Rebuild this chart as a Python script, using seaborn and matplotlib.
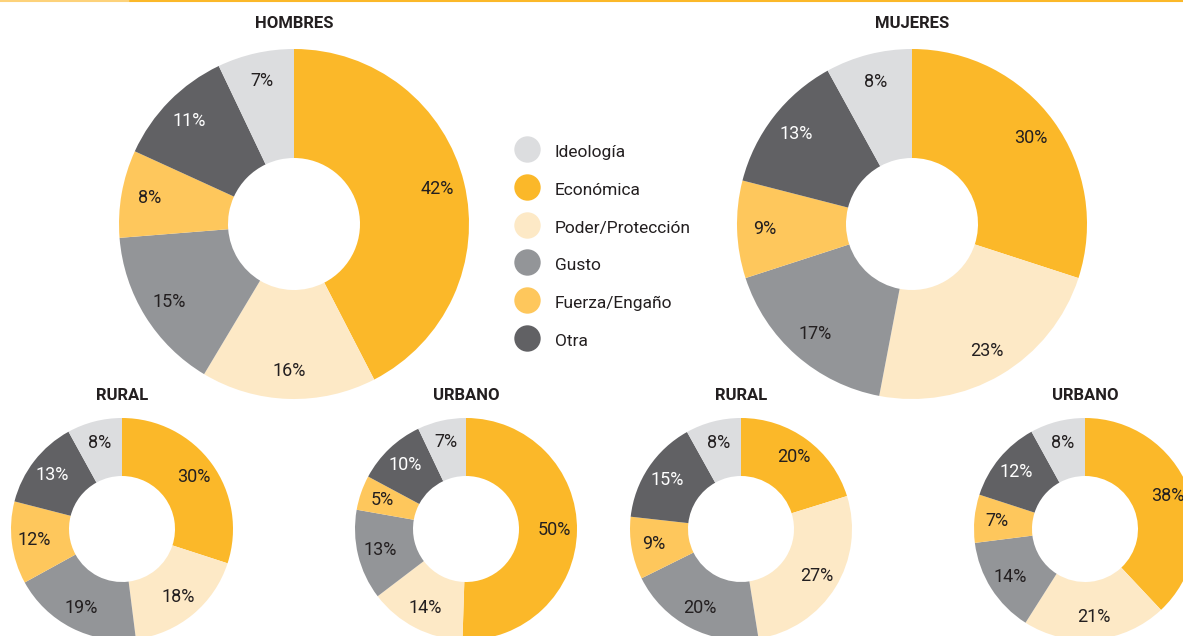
import matplotlib
matplotlib.use("Agg")
import matplotlib.pyplot as plt
import seaborn as sns
from matplotlib.lines import Line2D

# categories, in clockwise order starting at 12 o'clock
categories = ["Económica", "Poder/Protección", "Gusto", "Fuerza/Engaño", "Otra", "Ideología"]
legend_order = ["Ideología", "Económica", "Poder/Protección", "Gusto", "Fuerza/Engaño", "Otra"]
colors = {
    "Ideología": "#dcdddf",
    "Económica": "#fbb829",
    "Poder/Protección": "#fde9c6",
    "Gusto": "#939598",
    "Fuerza/Engaño": "#fec75c",
    "Otra": "#616164",
}

hombres = [42, 16, 15, 8, 11, 7]
mujeres = [30, 23, 17, 9, 13, 8]
hombres_rural = [30, 18, 19, 12, 13, 8]
hombres_urbano = [50, 14, 13, 5, 10, 7]
mujeres_rural = [20, 27, 20, 9, 15, 8]
mujeres_urbano = [38, 21, 14, 7, 12, 8]

sns.set_style("white")
plt.rcParams["font.family"] = ["Roboto", "DejaVu Sans"]

W, H = 1183, 636
fig = plt.figure(figsize=(W / 100, H / 100), dpi=100)
ax = fig.add_axes([0, 0, 1, 1])

dark = "#231f20"
pal = [colors[c] for c in categories]

# (title, values, center x, center y (pixels from top), radius, hole, label dist)
donuts = [
    ("HOMBRES", hombres, 294, 224, 175, 66, 0.84),
    ("MUJERES", mujeres, 912, 224, 175, 66, 0.84),
    ("RURAL", hombres_rural, 122, 529, 111, 53, 0.80),
    ("URBANO", hombres_urbano, 466, 529, 111, 53, 0.80),
    ("RURAL", mujeres_rural, 741, 529, 111, 53, 0.80),
    ("URBANO", mujeres_urbano, 1085, 529, 111, 53, 0.80),
]

for title, vals, cx, cy, r, hole, pd_ in donuts:
    wedges, texts, autotexts = ax.pie(
        vals, colors=pal, startangle=90, counterclock=False,
        center=(cx, H - cy), radius=r,
        wedgeprops=dict(width=r - hole, linewidth=0),
        autopct=lambda p: "", pctdistance=pd_,
    )
    for t, v, c in zip(autotexts, vals, categories):
        t.set_text(f"{v}%")
        t.set_fontsize(13)
        t.set_color("white" if c == "Otra" else dark)
    ty = 23 if r > 150 else 395
    ax.text(cx, H - ty, title, ha="center", va="center", fontsize=12,
            fontweight="bold", color=dark)

# legend
handles = [Line2D([], [], marker="o", linestyle="none", markersize=19,
                  markerfacecolor=colors[c], markeredgewidth=0) for c in legend_order]
fig.legend(handles, legend_order, loc="upper left",
           bbox_to_anchor=(514 / W, 1 - 141 / H), frameon=False,
           fontsize=12.5, handlelength=1.5, handleheight=1.5, handletextpad=0.85,
           labelspacing=0.95, borderpad=0, borderaxespad=0, labelcolor=dark)

# thin rule along the top edge
ax.axhline(H - 1, xmin=0, xmax=130 / W, color="#fdd27a", linewidth=1.5)
ax.axhline(H - 1, xmin=130 / W, xmax=1, color="#fbb829", linewidth=1.5)

ax.set_xlim(0, W)
ax.set_ylim(0, H)
ax.set_axis_off()

fig.savefig("out.png", dpi=100)
